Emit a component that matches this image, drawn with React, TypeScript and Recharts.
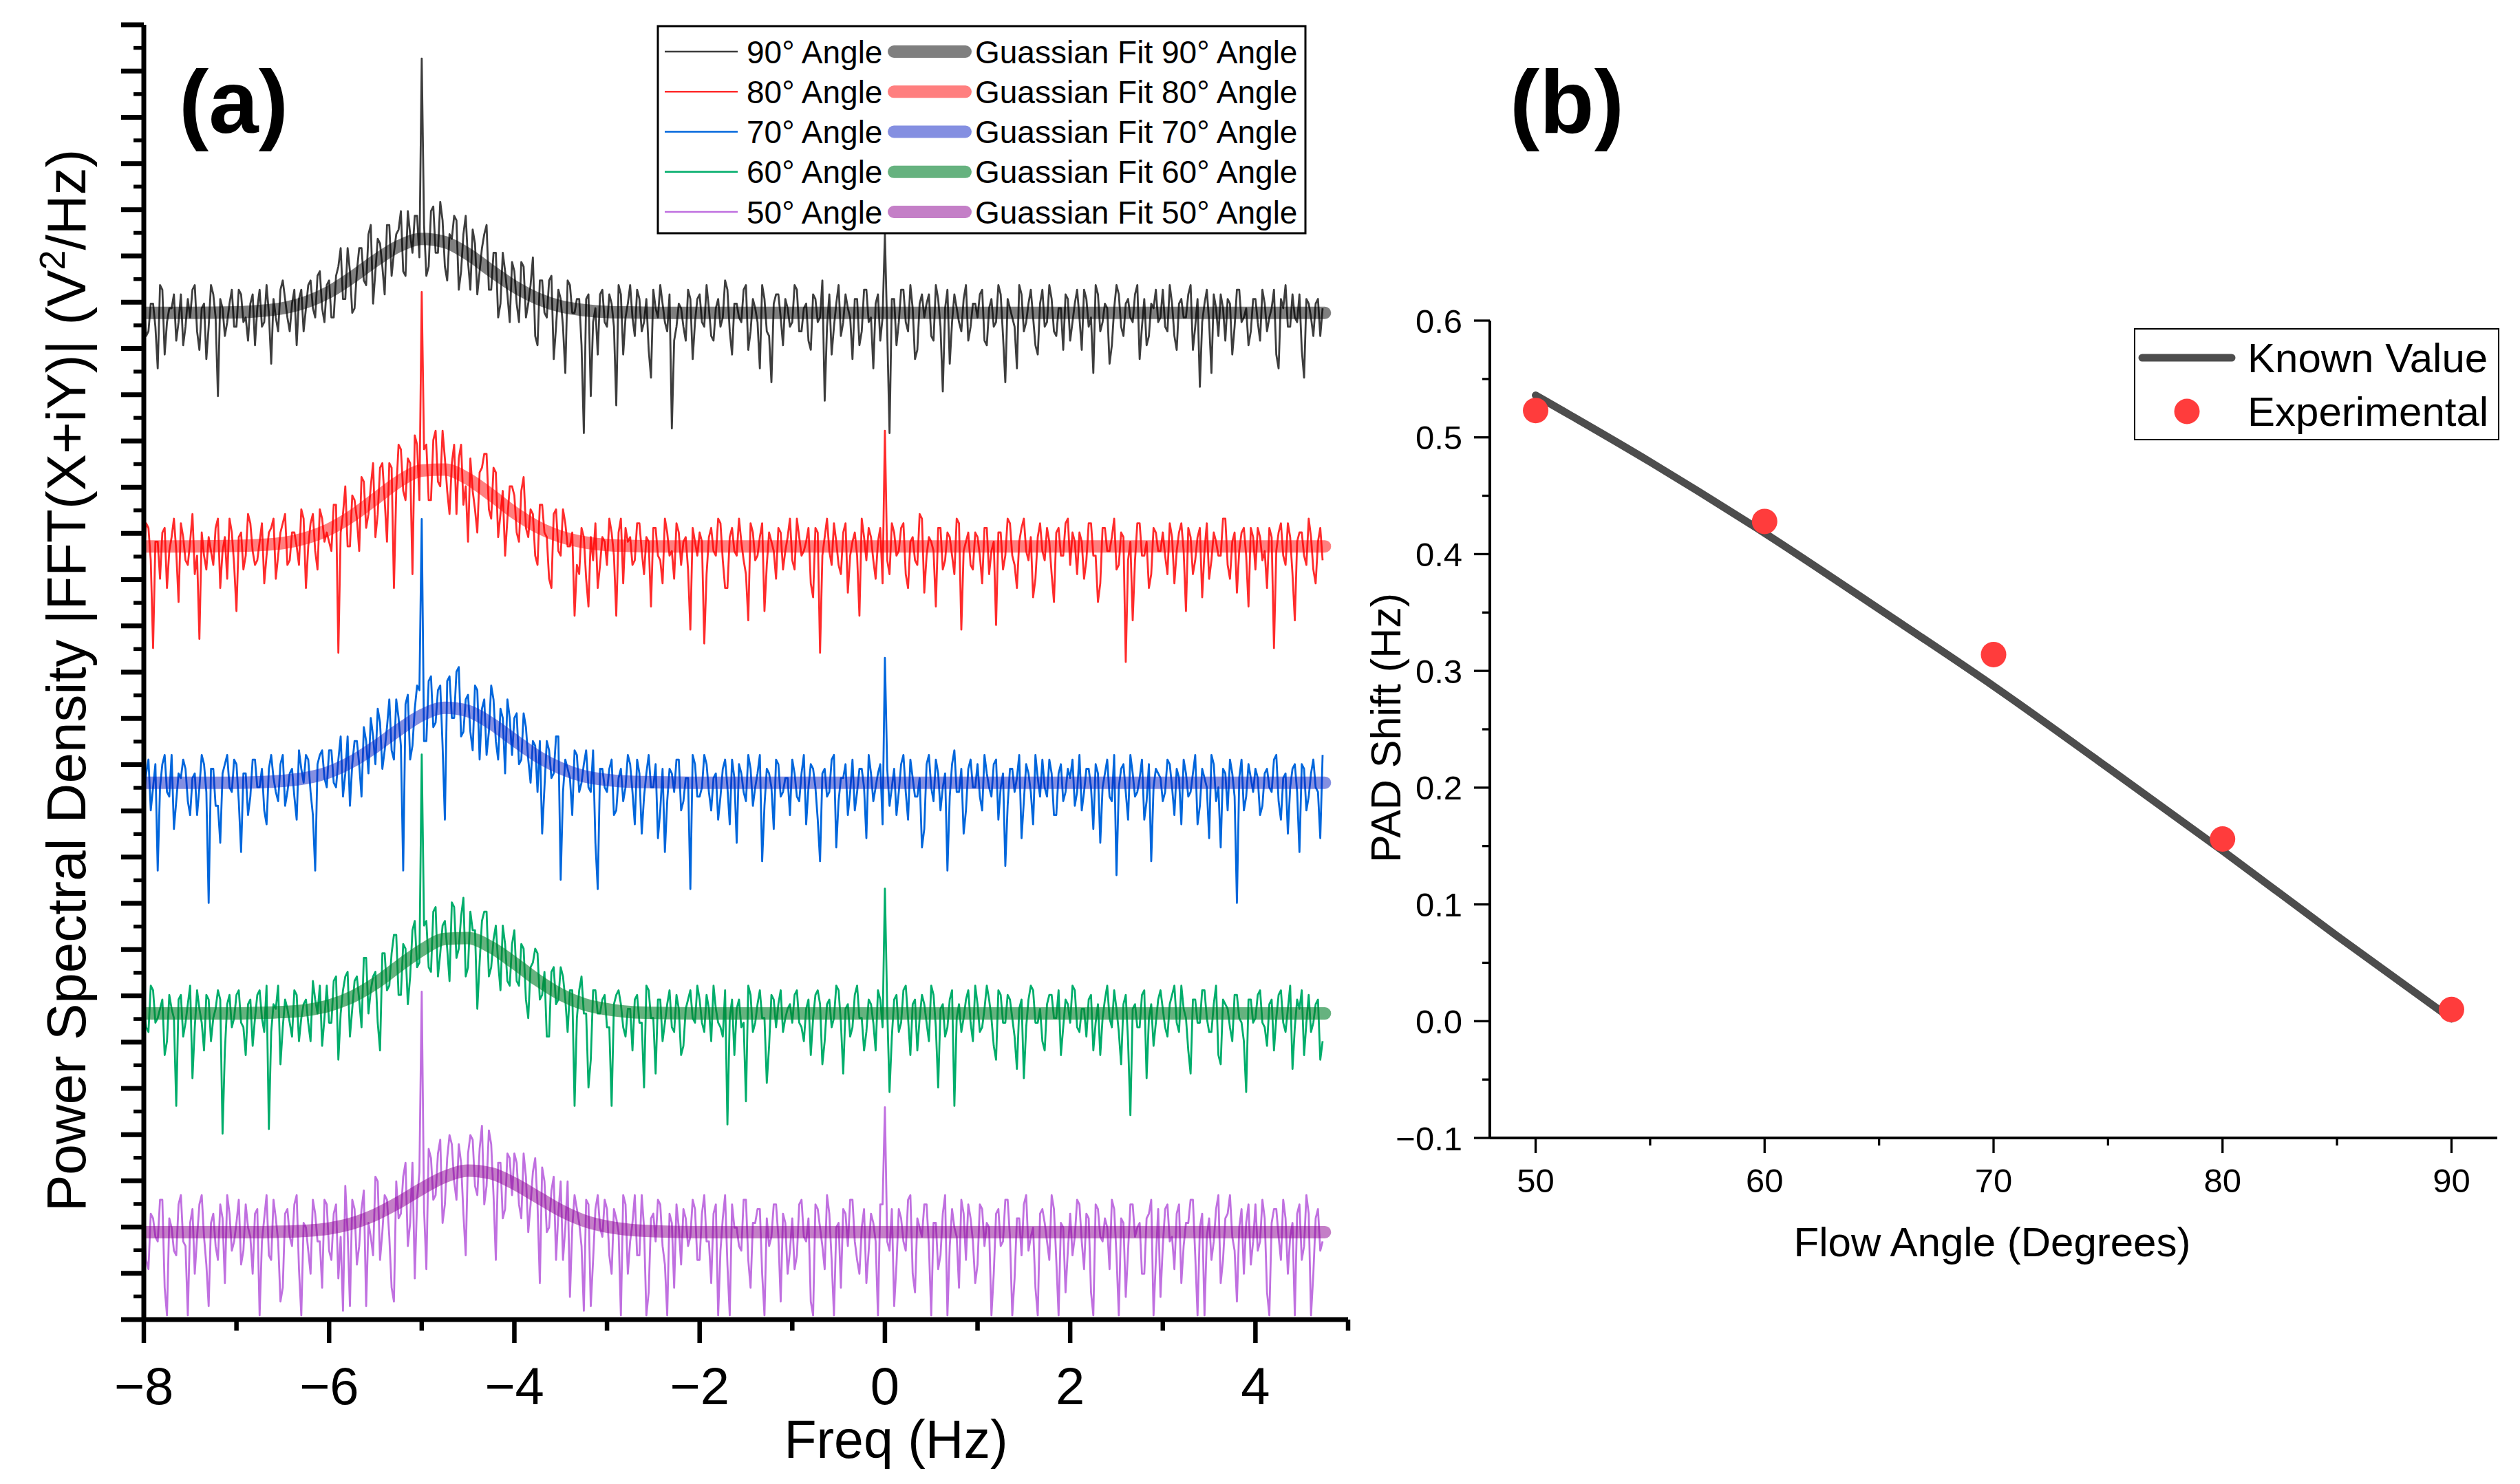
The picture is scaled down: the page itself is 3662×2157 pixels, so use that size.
import React from "react";
import { LineChart, ComposedChart, Line, Scatter, XAxis, YAxis } from "recharts";

const FONT = '"Liberation Sans", Arial, Helvetica, sans-serif';

// ---- panel (a): PSD traces, sampled every 0.025 Hz from -8 Hz.
// rawXX holds the samples at -8, -7.95, ...; rawXXb the ones half a step later.
// Values are tenths of a unit above each trace's own baseline.
const FREQ_START = -8;
const FREQ_STEP = 0.05;

const raw90 = [
  3, -4, 2, -12, 5, -2, 1, -6, 4, -3, -1, 6, -8, 2, -3, 4, -18, 1, -2, 5,
  -3, 4, -1, 2, -7, 5, -2, 0, 3, -4, 7, -1, 2, -7, 5, 1, 7, -1, 9, -2,
  7, -1, 10, 3, 14, 0, 9, 14, 6, 19, 9, 15, 4, 19, 13, 18, 9, 22, 13, 21,
  55, 8, 22, 13, 24, 10, 17, 21, 5, 17, 11, 18, 4, 14, 19, 5, 13, 2, 9, -2,
  9, -2, 10, 2, 12, -7, 7, -1, 8, -3, 3, -13, 6, 0, 3, -26, 4, -2, -9, 5,
  -3, 2, -20, 4, -1, 6, -5, 3, -2, -8, 5, -1, 2, -4, -25, -3, 1, -6, 3, -2,
  4, -3, 1, -6, 3, -1, 5, -9, 2, -2, 6, -4, 1, -12, 3, -5, 2, 4, -7, 1,
  -2, 5, -4, 2, -8, 3, -1, -19, 4, -3, 6, -2, 1, -10, 3, -4, 5, -1, 2, -6,
  17, -26, 3, -2, 5, -4, 1, -8, 4, 2, -5, 6, -3, 1, -11, 4, -2, 3, -6, 2,
  -1, 5, -7, 3, -2, 4, -15, 1, -3, 6, -4, 2, -1, -9, 5, -2, 3, -5, 1, 4,
  -6, 2, -1, 5, -3, -13, 4, -2, 1, -7, 6, -3, 2, -1, 4, -10, 3, -5, 1, -2,
  5, -4, 2, -8, 3, -1, 6, -3, -16, 2, -2, 4, -5, 1, 3, -9, 5, -2, 1, -4,
  3, -6, 2, -1, 5, -12, 1, -3, 4, -2, -8, 3, -1, 2, -5,
];
const raw90b = [
  -5, 2, -3, 6, -9, 1, 4, -2, -7, 3, 5, -4, 1, -10, 6, -1, 3, -5, 2, -3,
  5, -2, -6, 4, 1, -3, 6, -11, -1, 5, 3, -4, 5, 3, -4, 6, 1, 8, 1, 6,
  -1, 8, 14, 3, 9, 1, 14, 7, 17, 2, 16, 10, 19, 8, 17, 22, 8, 17, 21, 12,
  19, 10, 23, 13, 20, 7, 16, 20, 9, 21, 5, 15, 9, 17, 5, 13, -1, 13, 4, 11,
  2, 11, -1, 6, -5, 7, 0, 7, -10, 5, -3, 7, 0, 3, -7, 3, -18, 1, 4, -2,
  4, -3, 6, -9, 2, -1, 5, -4, 3, -14, 1, 6, -2, 4, -6, 2, -3, 5, -10, 3,
  -2, 6, -5, 1, -3, 7, -4, 2, -1, 5, -8, 3, -2, 6, -4, -15, 4, -1, 3, -3,
  6, -4, 1, -6, 4, -2, 7, -3, -9, 2, -5, 4, -1, 3, -7, 5, -2, -12, 4, -1,
  -4, 3, -7, 5, -2, 6, -10, 2, -1, 4, -6, 3, -17, 5, -2, 1, -4, 6, -3, 2,
  4, -6, 1, -3, 6, -5, 3, -1, -12, 4, -2, 5, -7, 2, -3, 6, -4, 1, -8, 3,
  -2, 5, -8, 3, -1, 6, -4, 2, -11, 1, 4, -5, 3, -2, 6, -3, -7, 2, 5, -1,
  -3, 6, -5, 2, -1, 4, -8, 3, -2, 5, -13, 1, 4, -6, 2, -3, 5, -1, -7, 3,
  -2, 5, -4, 1, -9, 3, 6, -3, -1, 4, -14, 2, -5, 3, 1,
];

const raw80 = [
  -2, 4, -22, 1, 3, -9, 2, -1, 5, -3, 1, -6, -20, -2, 2, -4, 6, -1, -7, 3,
  -14, 3, -2, 5, -4, 1, -8, 3, 6, -2, 5, -4, 3, 0, 8, -9, 5, -1, 8, 1,
  1, 9, -23, 7, 0, 11, 6, 15, 4, 13, 2, 17, 10, 18, -9, 22, 12, 19, -6, 22,
  55, 22, 10, 25, 13, 19, 7, 22, 19, 9, 1, 12, 3, 17, 20, 6, 16, 7, -2, 13,
  11, 1, 15, 2, 7, -4, 9, 2, -9, 8, -2, 5, 0, -15, -6, 2, -13, -3, -9, 2,
  -4, 3, -15, 6, 4, 2, -3, 5, -6, 1, 4, -2, -8, 3, -1, 5, -4, 2, -18, 1,
  3, -21, 2, -1, 6, -3, -9, 4, -2, 1, -6, 5, -3, 2, -14, 3, -1, 4, -5, 2,
  -3, 6, -2, 1, -8, 4, -23, 2, -1, 5, -4, 3, -10, 1, -2, 6, -3, 2, -7, 4,
  25, -6, 3, -1, 5, -9, 2, -4, 6, -2, 1, -13, 4, -3, 2, -6, 5, -1, 3, -5,
  2, -8, 4, -1, -17, 3, -2, 5, -4, 1, 6, -3, -11, 2, -1, 4, -6, 3, -2, 5,
  -4, 1, 3, -7, 5, -2, -12, 4, -1, 2, -5, 3, -25, 1, -3, 5, -2, -9, 4, -1,
  3, -6, 2, -1, 5, -14, 2, -3, 4, -1, -7, 3, -2, 6, -4, 1, -10, 3, -2, 4,
  -5, 2, -1, 4, -22, 3, -2, 5, -6, 1, 3, -4, 2, -8, 4,
];
const raw80b = [
  5, -3, 1, -7, 4, -1, 6, -12, 2, -4, 7, -2, 3, -5, -1, 4, -9, 2, 6, -4,
  2, -5, 7, -1, -3, 5, -2, 4, -7, 3, 7, -3, 3, -4, 6, 0, 7, -5, 6, 3,
  -1, 9, 3, 13, 0, 10, -1, 14, 7, 18, 7, 18, 1, 17, 12, 21, 10, 18, 24, 10,
  21, 10, 23, 14, 25, 12, 18, 7, 22, 13, 19, 8, 16, 20, 8, 17, 2, 12, 6, 13,
  3, 12, 4, 8, -2, 9, 3, -7, 7, -1, 8, 0, 3, -4, 4, -7, 2, 5, -4, 1,
  6, -2, 3, -8, 1, -4, 5, -1, 2, -13, 4, -3, 6, -2, -7, 3, 1, -5, 4, -2,
  1, -6, 4, -2, 5, -9, 2, -1, 6, -3, -16, 3, -2, 5, -4, 1, -7, 3, -1, 6,
  -5, 2, -1, 4, -11, 3, -2, 6, -4, 1, -6, 5, -2, 3, -15, 2, 4, -3, 1, -8,
  -3, 5, -2, 4, -6, 1, -3, 7, -10, 2, -1, 4, -5, 3, -2, 6, -18, 1, -4, 3,
  -2, 4, -6, 1, 3, -5, 6, -2, -9, 4, -1, 2, -7, 5, -3, 1, -12, 4, -2, 6,
  3, -6, 1, -3, 5, -2, -8, 4, -1, 6, -4, 2, -3, -16, 5, -2, 1, -6, 3, -1,
  -2, 5, -8, 3, -1, 4, -6, 2, -11, 5, -3, 1, -2, 6, -7, 3, -1, 4, -13, 2,
  4, -3, -9, 2, -1, 5, -4, 2, -16, 3, -2, 6, -5, 1, -3,
];

const raw70 = [
  -3, 5, -1, -19, 4, -2, 6, -4, 1, 3, -7, 2, -1, 4, -26, 3, -5, 2, 6, -2,
  4, -15, 2, -3, 5, -1, -6, 3, 1, -4, 6, -2, 3, -8, 3, 6, -2, -19, 6, 1,
  7, 0, 5, -3, 10, 4, 9, -3, 9, 14, 4, 13, 7, 18, 5, 14, -19, 19, 8, 21,
  57, 9, 23, 13, 21, -8, 23, 14, 25, 11, 19, 7, 20, 16, 6, 21, 9, 16, 2, 14,
  14, 4, 15, 5, 9, -2, -11, 9, 1, 10, -21, 5, 1, 7, -2, 4, -1, 7, -23, 3,
  -2, 5, -6, 3, -1, 4, -9, 2, -3, 6, -1, -12, 3, -4, 2, 5, -6, 1, -23, 4,
  -3, 6, -2, 1, -8, 3, -1, 5, -13, 2, -4, 3, -1, 6, -5, 2, -10, 4, -2, 1,
  5, -3, 2, -9, 4, -1, -17, 3, -2, 6, -4, 1, -7, 5, -2, 3, -12, 2, -1, 4,
  27, -5, 3, -2, 6, -8, 1, -3, -14, 4, -1, 5, -6, 2, -3, 7, -2, -11, 3, -1,
  4, -6, 2, -3, 5, -1, -18, 3, -2, 6, -4, 2, -9, 1, 5, -3, 2, -7, 4, -2,
  1, -5, 6, -2, 3, -10, 2, -1, 5, -4, -20, 3, -2, 6, -3, 1, -8, 4, -1, 2,
  -4, 5, -1, 3, -9, 2, -2, 6, -5, 1, -12, 4, -1, 3, -6, 2, -26, 5, -3, 1,
  3, -7, 2, -1, 5, -4, 1, -11, 3, -2, 4, -6, 2, -1, -12,
];
const raw70b = [
  2, -6, 4, -1, 6, -3, -10, 2, 5, -4, 1, -7, 6, -2, 3, -5, -13, 4, -1, 5,
  -4, 2, -7, 5, -1, 3, -9, 6, -2, 4, -5, 2, -3, 7, 0, 5, -7, 4, 7, -1,
  7, -1, 10, 2, -5, 9, 4, 12, 2, 10, 16, 3, 12, 7, 18, 8, 17, 5, 16, 20,
  9, 22, 12, 20, 8, 22, 14, 24, 10, 18, 11, 21, 5, 18, 11, 18, 5, 14, 18, 6,
  15, 5, 12, 0, 8, 9, -1, 7, 2, 10, -2, 3, -7, 6, 0, 7, -2, -13, 3, -1,
  3, -7, 1, -4, 6, -2, 5, -11, 2, -1, 4, -6, -15, 3, -2, 5, -4, 1, 6, -3,
  -1, 4, -6, 2, -3, 5, -9, 1, 4, -2, 6, -5, 2, -17, 3, -1, 5, -3, 1, -7,
  2, -4, 6, -1, 3, -8, 2, -3, 5, -14, 1, 4, -2, -6, 3, -1, 6, -4, 2, -9,
  3, -1, -7, 4, -2, 5, -3, 1, -10, 6, -4, 2, -1, -19, 4, -2, 3, -6, 5, -1,
  -3, 6, -1, 4, -8, 2, -5, 3, 1, -12, 4, -2, 6, -3, -1, 5, -7, 2, -4, 3,
  5, -2, -6, 3, -1, 4, -13, 2, -3, 6, -1, 4, -8, 2, -2, 5, -4, -17, 3, 1,
  -2, 4, -7, 1, 5, -3, 2, -9, 3, -1, 6, -4, -14, 2, 5, -3, 1, -6, 4, -2,
  1, -5, 3, -2, 6, -8, 2, -1, 4, -15, 3, -3, 5, -2, 6,
];

const raw60 = [
  2, -4, 5, -1, 3, -6, 1, -20, 4, -2, 6, -3, 1, -8, 3, -1, 5, -26, 2, -3,
  4, -2, -9, 3, -1, 5, -4, -25, 2, 6, -3, 1, -5, 4, -1, 3, -6, 3, 6, -1,
  -2, 7, -10, 5, 9, 1, 8, -3, 12, 5, 9, -8, 13, 6, 17, 4, 15, 2, 18, 10,
  56, 20, 9, 23, 13, 20, 7, 23, 14, 25, 10, 18, 1, 20, 22, 10, 19, 5, 15, 6,
  18, 6, 14, -1, 11, 13, 4, -5, 9, 2, 10, 3, 5, -20, 5, 0, -16, 5, 0, 3,
  -3, -20, 4, 2, -5, 1, 3, -2, -16, 5, -1, 3, -6, 2, -3, 4, -9, 1, 5, -2,
  3, -4, 1, 6, -2, -5, -24, 3, 1, -3, -19, 4, -2, 5, -1, -7, 3, 2, -4, 1,
  -2, 5, -3, 1, -9, 4, 2, -6, 3, -1, 5, -13, 2, -3, 6, -1, -4, 2, -8, 3,
  27, -17, 3, -4, 5, -1, 2, -8, 4, -2, 6, -3, 1, -5, 3, -20, 2, -1, 5, -6,
  2, -3, 6, -1, -10, 4, -2, 3, -5, 1, -14, 3, 5, -2, -6, 2, 4, -1, -9, 3,
  -2, 5, -4, 1, 3, -8, 2, -1, 6, -3, 1, -11, 4, -22, 2, -3, 5, -1, -7, 3,
  1, -5, 4, -2, 6, -1, -13, 3, -2, 5, -4, 2, -9, 3, 1, -6, 4, -2, -17, 3,
  -1, 5, -3, 2, -8, 4, -2, 1, -12, 3, 5, -2, -4, 2, -10,
];
const raw60b = [
  -3, 6, -2, 1, -9, 4, -1, 3, -5, 2, -14, 5, -2, 4, -6, 1, 3, -8, 4, -1,
  5, -3, 2, -7, 4, -1, 6, -4, 1, -11, 3, -2, 5, -6, 2, -2, 7, 0, -7, 6,
  -2, 8, 0, 8, -5, 7, 3, 12, 0, 8, -2, 13, 5, 13, 17, 4, 14, 8, 20, 11,
  19, 10, 22, 8, 19, 14, 24, 12, 21, 8, 22, 18, 11, 22, 8, 16, 11, 19, 7, 15,
  7, 15, 3, 10, 14, 3, 9, -5, 10, 3, 8, -4, 5, -1, 8, 0, -10, 5, 0, 4,
  -3, 2, 5, -3, 1, -8, 4, -2, 6, -1, -13, 3, -2, 5, -4, 1, -7, 3, -1, 6,
  -2, 4, -6, 1, -3, 5, -1, -9, 3, -2, 6, -4, 2, -1, -15, 4, -3, 5, -1, 2,
  4, -2, -6, 3, -1, 5, -11, 2, -3, 6, -2, 1, -5, 4, -1, -8, 3, -2, 5, -3,
  1, -5, 4, -2, 6, -9, 3, -1, 2, -6, 4, -16, 2, -3, 5, -1, -4, 3, -2, 6,
  -4, 1, 3, -7, 5, -2, 4, -1, -12, 3, -3, 6, -2, 1, -8, 4, -1, 5, -3, 2,
  6, -3, 1, -5, 4, -2, -9, 3, -1, 5, -4, 2, -6, 1, -3, 4, -14, 2, -2, 5,
  -3, 2, 6, -4, 1, -8, 3, -2, 5, -1, -4, 6, -11, 2, -3, 4, -1, -6, 3, -2,
  4, -2, -7, 3, -1, 5, -4, 6, -3, 1, -9, 4, -2, 3, -6,
];

const raw50 = [
  5, -8, 3, -2, 7, -18, 1, -5, 8, -3, 2, -9, 6, -1, -16, 4, -6, 3, 8, -4,
  2, -7, 6, -1, 4, -18, 3, -5, 7, -2, -12, 5, -3, 8, -18, 1, -9, 4, -2, 7,
  -4, 4, -10, -17, 0, 7, -7, 5, -16, -1, 12, -6, 8, -1, -15, 3, 12, -3, 15, 7,
  52, -8, 16, 8, 20, 6, 21, 11, 19, 4, 17, 20, 8, 23, 10, 19, -6, 15, 5, 16,
  17, 6, 17, 0, 13, 6, 14, 0, 9, -6, 11, 1, -14, 8, 2, -17, 6, -6, 8, -1,
  5, -9, 3, -18, 6, -2, 8, -5, 1, -13, 4, 7, -3, -18, 2, 6, -7, 3, -1, 5,
  -6, 8, -2, 4, -18, 3, -7, 6, 1, -4, 7, -12, 2, 5, -18, -3, 6, -1, 4, -9,
  3, -5, 7, -2, -15, 6, 1, -8, 4, -18, 2, 5, -3, 7, -6, 1, -11, 4, -2, 6,
  27, -4, -16, 5, -2, 7, -9, 3, -1, 6, -18, 2, -5, 8, -3, 1, -12, 4, 6, -2,
  -7, 5, 2, -18, 4, -3, 7, -1, -10, 3, 6, -4, 1, -18, 5, -2, 8, -6, 2, -13,
  4, -1, 6, -8, 3, -18, 5, -2, 1, 7, -5, 3, -14, 6, -1, 2, -9, 4, -18, 5,
  -3, 6, -1, 4, -11, 2, 7, -5, 1, -18, 3, -2, 8, -6, 4, -1, -15, 5, 2, -7,
  6, -2, 3, -18, 5, -1, 7, -9, 2, 4, -6, 8, -18, 3, -4,
];
const raw50b = [
  -6, 4, -1, 7, -12, 3, -4, 6, -2, -18, 5, -1, 8, -7, 2, -3, 6, -11, 4, -2,
  7, -4, 1, -9, 5, -2, 8, -6, 3, -15, 4, -1, 6, -8, 2, -4, 7, -2, -12, 6,
  -6, 6, -1, 10, -16, 5, -3, 9, 2, -5, 11, 0, 7, -12, 11, 4, 15, 2, -10, 13,
  5, 18, 7, 17, 2, 16, 19, 7, 15, -5, 21, 10, 18, 6, 22, 8, 15, 3, 17, 8,
  15, 3, 12, 6, 16, -11, 11, 1, 12, 4, -6, 11, 1, 5, -3, 7, -16, 5, 1, 7,
  -5, 5, 0, 8, -9, 2, -5, 8, -18, 3, -2, 6, -7, 4, -12, 1, 5, -3, 7, -6,
  4, -2, -11, 6, -4, 8, -18, 1, -3, 7, -6, 2, 5, -9, 3, -1, 6, -15, 2, -4,
  -8, 6, -1, 3, -18, 5, -3, 8, -6, 1, -12, 4, 7, -2, -9, 5, -4, 2, -18, 6,
  -2, 5, -7, 3, -4, 8, -13, 1, 6, -3, 2, -8, 4, -18, 5, -1, 7, -6, 3, -11,
  6, -3, 1, -9, 5, -2, 7, -18, 3, -5, 8, -1, -12, 4, 2, -6, 5, -18, 1, -4,
  -5, 7, -2, 4, -13, 6, -1, 3, -8, 5, -18, 2, -4, 6, 1, -9, 3, 7, -6, -14,
  5, -2, -8, 6, -3, 2, 7, -18, 4, -1, -6, 5, -11, 3, 8, -4, 1, -9, 6, -2,
  -4, 7, -13, 2, 5, -6, 3, -1, -18, 6, -3, 4, -9, 5, -2,
];

// Gaussian fits, read at these frequencies (units above baseline)
const fitFreq = [-8, -7.5, -7, -6.75, -6.5, -6.25, -6, -5.75, -5.5, -5.25, -5, -4.75, -4.5, -4.25, -4, -3.75, -3.5, -3.25, -3, -2.75, -2.5, -2, 0, 2, 4.75];
const fit90 = [0, 0, 0.01, 0.04, 0.1, 0.23, 0.45, 0.77, 1.13, 1.44, 1.6, 1.53, 1.27, 0.91, 0.57, 0.31, 0.14, 0.06, 0.02, 0.01, 0, 0, 0, 0, 0];
const fit80 = [0, 0, 0.01, 0.03, 0.07, 0.18, 0.37, 0.66, 1.03, 1.4, 1.64, 1.66, 1.46, 1.11, 0.73, 0.42, 0.21, 0.09, 0.03, 0.01, 0, 0, 0, 0, 0];
const fit70 = [0, 0, 0, 0.01, 0.04, 0.1, 0.23, 0.46, 0.78, 1.14, 1.46, 1.62, 1.55, 1.28, 0.92, 0.57, 0.31, 0.14, 0.06, 0.02, 0.01, 0, 0, 0, 0];
const fit60 = [0, 0, 0, 0.01, 0.03, 0.07, 0.17, 0.36, 0.65, 1.02, 1.37, 1.61, 1.63, 1.43, 1.09, 0.72, 0.41, 0.2, 0.09, 0.03, 0.01, 0, 0, 0, 0];
const fit50 = [0, 0, 0, 0, 0.01, 0.03, 0.08, 0.19, 0.38, 0.64, 0.94, 1.2, 1.33, 1.27, 1.05, 0.76, 0.47, 0.25, 0.12, 0.05, 0.02, 0, 0, 0, 0];

const freqTicks = [-8, -7, -6, -5, -4, -3, -2, -1, 0, 1, 2, 3, 4, 5];
const psdTicks = Array.from({ length: 57 }, (_, i) => i / 2);

// ---- panel (b)
const knownAngle = [50, 55, 60, 65, 70, 75, 80, 85, 90];
const knownShift = [0.536, 0.479, 0.418, 0.353, 0.287, 0.217, 0.146, 0.073, 0.002];
const expAngle = [50, 60, 70, 80, 90];
const expShift = [0.523, 0.428, 0.314, 0.156, 0.01];
const angleTicks = [50, 55, 60, 65, 70, 75, 80, 85, 90];
const shiftTicks = [-0.1, -0.05, 0, 0.05, 0.1, 0.15, 0.2, 0.25, 0.3, 0.35, 0.4, 0.45, 0.5, 0.55, 0.6];

const series = [
  { label: "90° Angle", raw: raw90, rawB: raw90b, fit: fit90, base: 21.77, color: "#3d3d3d", fitColor: "#000000", fitOpacity: 0.5 },
  { label: "80° Angle", raw: raw80, rawB: raw80b, fit: fit80, base: 16.72, color: "#ff2b2b", fitColor: "#ff0000", fitOpacity: 0.5 },
  { label: "70° Angle", raw: raw70, rawB: raw70b, fit: fit70, base: 11.61, color: "#0066dc", fitColor: "#0a1fc4", fitOpacity: 0.5 },
  { label: "60° Angle", raw: raw60, rawB: raw60b, fit: fit60, base: 6.62, color: "#00ad6b", fitColor: "#007f2a", fitOpacity: 0.6 },
  { label: "50° Angle", raw: raw50, rawB: raw50b, fit: fit50, base: 1.89, color: "#c070e0", fitColor: "#89008f", fitOpacity: 0.5 },
];

const minus = (v: number, d: number) => (v < -1e-9 ? "\u2212" : "") + Math.abs(v).toFixed(d);

function FreqTick(props: any) {
  const { x, y, payload } = props;
  const v = payload.value;
  const major = Math.abs(v % 2) < 1e-9 && v <= 4;
  return (
    <g>
      <line x1={x} y1={y} x2={x} y2={y + (major ? 34 : 16)} stroke="#000" strokeWidth={6.5} />
      {major && (
        <text x={x} y={y + 123} textAnchor="middle" fontSize={76} fontFamily={FONT} fill="#000">
          {minus(v, 0)}
        </text>
      )}
    </g>
  );
}

function PsdTick(props: any) {
  const { x, y, payload } = props;
  const major = Number.isInteger(payload.value);
  return <line x1={x} y1={y} x2={x - (major ? 33 : 15)} y2={y} stroke="#000" strokeWidth={major ? 7 : 5.5} />;
}

function AngleTick(props: any) {
  const { x, y, payload } = props;
  const v = payload.value;
  const major = v % 10 === 0;
  return (
    <g>
      <line x1={x} y1={y} x2={x} y2={y + (major ? 22 : 11)} stroke="#000" strokeWidth={3.3} />
      {major && (
        <text x={x} y={y + 79} textAnchor="middle" fontSize={49} fontFamily={FONT} fill="#000">
          {v}
        </text>
      )}
    </g>
  );
}

function ShiftTick(props: any) {
  const { x, y, payload } = props;
  const v = payload.value;
  const major = Math.abs(v * 10 - Math.round(v * 10)) < 1e-6;
  return (
    <g>
      <line x1={x} y1={y} x2={x - (major ? 23 : 11)} y2={y} stroke="#000" strokeWidth={3.3} />
      {major && (
        <text x={x - 40} y={y + 17.5} textAnchor="end" fontSize={49} fontFamily={FONT} fill="#000">
          {minus(v, 1)}
        </text>
      )}
    </g>
  );
}

function ExpDot(props: any) {
  const { cx, cy } = props;
  return <circle cx={cx} cy={cy} r={18.5} fill="#ff3c3c" />;
}

export default function App() {
  const traces = series.map((s) => {
    const rawRows: { f: number; y: number }[] = [];
    s.raw.forEach((v, i) => {
      const f = FREQ_START + i * FREQ_STEP;
      rawRows.push({ f, y: s.base + v / 10 });
      if (s.rawB[i] !== undefined) rawRows.push({ f: f + FREQ_STEP / 2, y: s.base + s.rawB[i] / 10 });
    });
    const fitRows = fitFreq.map((f, i) => ({ f, y: s.base + s.fit[i] }));
    return { ...s, rawRows, fitRows };
  });
  const knownRows = knownAngle.map((a, i) => ({ angle: a, shift: knownShift[i] }));
  const expRows = expAngle.map((a, i) => ({ angle: a, shift: expShift[i] }));

  const legendRows = [75, 133.3, 191.5, 249.8, 308];

  return (
    <div style={{ position: "absolute", left: 0, top: 0, width: 3662, height: 2157, background: "#fff", overflow: "hidden" }}>
      <div style={{ position: "absolute", left: 0, top: 0 }}>
        <LineChart width={2000} height={2157} margin={{ top: 36, right: 41, bottom: 229, left: 199 }}>
          <XAxis
            dataKey="f"
            type="number"
            domain={[-8, 5]}
            ticks={freqTicks}
            interval={0}
            height={10}
            tickSize={0}
            tickMargin={0}
            tickLine={false}
            axisLine={{ stroke: "#000", strokeWidth: 7 }}
            tick={<FreqTick />}
            allowDataOverflow
          />
          <YAxis
            type="number"
            domain={[0, 28]}
            ticks={psdTicks}
            interval={0}
            width={10}
            tickSize={0}
            tickMargin={0}
            tickLine={false}
            axisLine={{ stroke: "#000", strokeWidth: 7 }}
            tick={<PsdTick />}
            allowDataOverflow
          />
          {traces.flatMap((t) => [
            <Line
              key={t.label + "-raw"}
              data={t.rawRows}
              dataKey="y"
              type="linear"
              dot={false}
              stroke={t.color}
              strokeWidth={2.8}
              strokeLinejoin="round"
              isAnimationActive={false}
            />,
            <Line
              key={t.label + "-fit"}
              data={t.fitRows}
              dataKey="y"
              type="monotone"
              dot={false}
              stroke={t.fitColor}
              strokeOpacity={t.fitOpacity}
              strokeWidth={18}
              strokeLinecap="round"
              isAnimationActive={false}
            />,
          ])}
        </LineChart>
      </div>

      <div style={{ position: "absolute", left: 1990, top: 0 }}>
        <ComposedChart width={1672} height={2157} margin={{ top: 466, right: 33, bottom: 493, left: 165 }}>
          <XAxis
            dataKey="angle"
            type="number"
            domain={[48, 92]}
            ticks={angleTicks}
            interval={0}
            height={10}
            tickSize={0}
            tickMargin={0}
            tickLine={false}
            axisLine={{ stroke: "#000", strokeWidth: 4 }}
            tick={<AngleTick />}
            allowDataOverflow
          />
          <YAxis
            type="number"
            domain={[-0.1, 0.6]}
            ticks={shiftTicks}
            interval={0}
            width={10}
            tickSize={0}
            tickMargin={0}
            tickLine={false}
            axisLine={{ stroke: "#000", strokeWidth: 4 }}
            tick={<ShiftTick />}
            allowDataOverflow
          />
          <Line
            data={knownRows}
            dataKey="shift"
            type="monotone"
            dot={false}
            stroke="#4d4d4d"
            strokeWidth={11}
            strokeLinecap="round"
            isAnimationActive={false}
          />
          <Scatter data={expRows} dataKey="shift" shape={<ExpDot />} isAnimationActive={false} />
        </ComposedChart>
      </div>

      <svg width={3662} height={2157} style={{ position: "absolute", left: 0, top: 0, pointerEvents: "none" }} fontFamily={FONT}>
        {/* panel letters */}
        <text x={339.5} y={193} textAnchor="middle" fontSize={130} fontWeight="bold" fill="#000">(a)</text>
        <text x={2277} y={193} textAnchor="middle" fontSize={130} fontWeight="bold" fill="#000">(b)</text>

        {/* panel (a) axis titles */}
        <text transform="translate(124,989) rotate(-90)" textAnchor="middle" fontSize={80} fill="#000">
          Power Spectral Density |FFT(X+iY)| (V
          <tspan dy={-30} fontSize={52}>2</tspan>
          <tspan dy={30}>/Hz)</tspan>
        </text>
        <text x={1302} y={2119} textAnchor="middle" fontSize={77} fill="#000">Freq (Hz)</text>

        {/* panel (a) legend */}
        <rect x={956} y={38} width={941} height={301} fill="#fff" stroke="#000" strokeWidth={3} />
        {series.map((s, i) => (
          <g key={s.label}>
            <line x1={966} x2={1072} y1={legendRows[i]} y2={legendRows[i]} stroke={s.color} strokeWidth={2.5} />
            <text x={1085} y={legendRows[i] + 16.5} fontSize={46} fill="#000">{s.label}</text>
            <line x1={1299} x2={1403} y1={legendRows[i]} y2={legendRows[i]} stroke={s.fitColor} strokeOpacity={s.fitOpacity} strokeWidth={18} strokeLinecap="round" />
            <text x={1417} y={legendRows[i] + 16.5} fontSize={46} fill="#000">{"Guassian Fit " + s.label}</text>
          </g>
        ))}

        {/* panel (b) axis titles */}
        <text x={2895} y={1826} textAnchor="middle" fontSize={60} fill="#000">Flow Angle (Degrees)</text>
        <text transform="translate(2035,1058) rotate(-90)" textAnchor="middle" fontSize={61} fill="#000">PAD Shift (Hz)</text>

        {/* panel (b) legend */}
        <rect x={3102} y={478} width={529} height={161} fill="#fff" stroke="#000" strokeWidth={2} />
        <line x1={3113} x2={3243} y1={520} y2={520} stroke="#4d4d4d" strokeWidth={11} strokeLinecap="round" />
        <text x={3266} y={541} fontSize={60} fill="#000">Known Value</text>
        <circle cx={3178} cy={598} r={18.5} fill="#ff3c3c" />
        <text x={3266} y={619} fontSize={60} fill="#000">Experimental</text>
      </svg>
    </div>
  );
}
